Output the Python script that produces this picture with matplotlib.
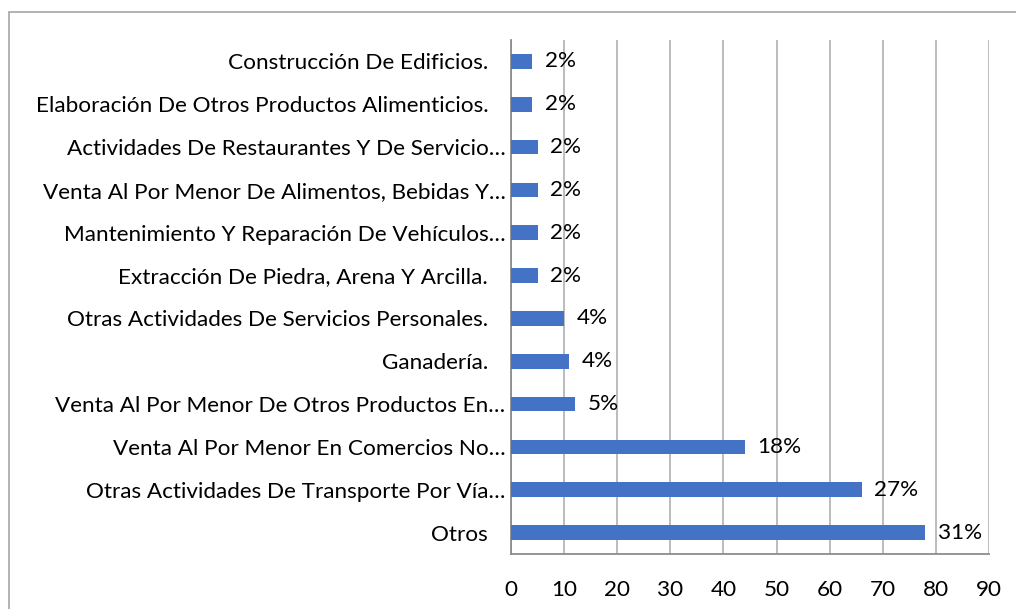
import matplotlib
matplotlib.use("Agg")
import matplotlib.pyplot as plt
from matplotlib.patches import Rectangle

# categories from bottom to top
categorias = [
    "Otros",
    "Otras Actividades De Transporte Por Vía…",
    "Venta Al Por Menor En Comercios No…",
    "Venta Al Por Menor De Otros Productos En…",
    "Ganadería.",
    "Otras Actividades De Servicios Personales.",
    "Extracción De Piedra, Arena Y Arcilla.",
    "Mantenimiento Y Reparación De Vehículos…",
    "Venta Al Por Menor De Alimentos, Bebidas Y…",
    "Actividades De Restaurantes Y De Servicio…",
    "Elaboración De Otros Productos Alimenticios.",
    "Construcción De Edificios.",
]
valores = [78, 66, 44, 12, 11, 10, 5, 5, 5, 5, 4, 4]
porcentajes = ["31%", "27%", "18%", "5%", "4%", "4%", "2%", "2%", "2%", "2%", "2%", "2%"]
xticks = [0, 10, 20, 30, 40, 50, 60, 70, 80, 90]

plt.rcParams['font.family'] = ['Lato', 'DejaVu Sans']
fs = 16.2

fig = plt.figure(figsize=(10.16, 6.09), dpi=100)
fig.patches.append(Rectangle((9/1016, -0.01), 1.02, 1 - 12/609 + 0.01,
                             transform=fig.transFigure, fill=False,
                             edgecolor="#a6a6a6", linewidth=1.2))
ax = fig.add_axes([511/1016, 55/609, 478/1016, 514/609])

y = list(range(len(categorias)))
ax.barh(y, valores, height=0.34, color="#4472C4", zorder=3)

for yi, v, p in zip(y, valores, porcentajes):
    ax.text(v + 2.4, yi, p, va="center", ha="left", fontsize=fs, color="black")

# labels that are not truncated carry trailing blanks as in the source
etiquetas = [c if c.endswith("…") else c + "   " for c in categorias]
ax.set_yticks(y)
ax.set_yticklabels(etiquetas, fontsize=fs)
ax.set_ylim(-0.5, len(categorias) - 0.5)
ax.set_xlim(0, 90)
ax.set_xticks(xticks)
ax.set_xticklabels([str(t) for t in xticks], fontsize=fs)
ax.tick_params(axis="both", length=0)
ax.tick_params(axis="y", pad=4)
ax.tick_params(axis="x", pad=19)

ax.grid(axis="x", color="#b0b0b0", linewidth=1.2, zorder=0)
for s in ["top", "right"]:
    ax.spines[s].set_visible(False)
ax.spines["left"].set_color("#8c8c8c")
ax.spines["bottom"].set_color("#8c8c8c")
ax.spines["left"].set_linewidth(1.3)
ax.spines["bottom"].set_linewidth(1.3)

fig.savefig("out.png", dpi=100)
